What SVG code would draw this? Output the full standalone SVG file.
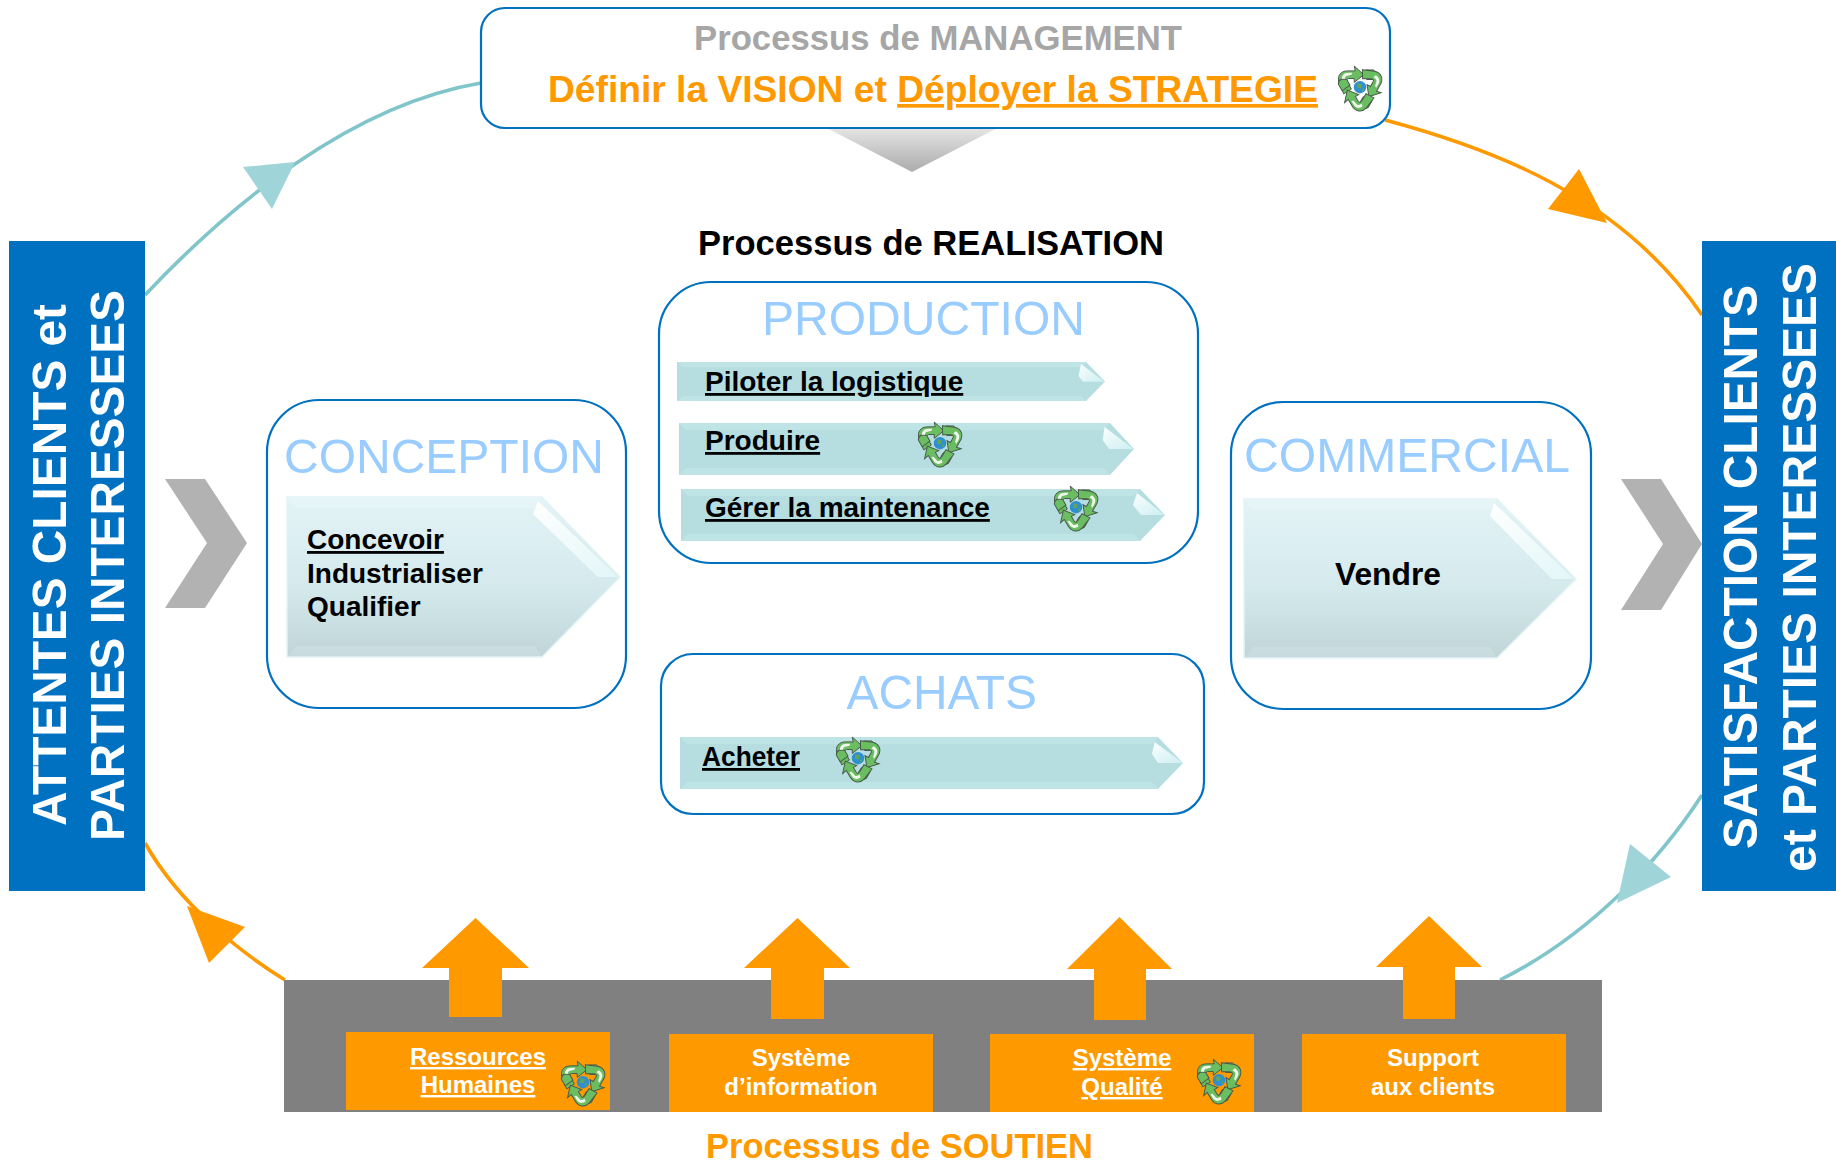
<svg xmlns="http://www.w3.org/2000/svg" width="1836" height="1162" viewBox="0 0 1836 1162">
<style>
text{font-family:"Liberation Sans",Arial,sans-serif;font-weight:700}
.box{fill:#fff;stroke:#0070C0;stroke-width:2.2}
.title{font-weight:400;font-size:48.5px;fill:#99CCFF}
.blk{font-size:28px;fill:#000}
.u{text-decoration:underline;text-decoration-thickness:3px}
.wht{font-size:24px;fill:#fff;text-anchor:middle}
.side{font-size:49px;fill:#fff}
.org{fill:#FF9900}
.sup{fill:#FF9900}
.blue{fill:#0070C0}
.chev{fill:#B2B2B2}
.tl{fill:none;stroke:#7FC5CA;stroke-width:3.6}
.ol{fill:none;stroke:#FF9900;stroke-width:3.6}
.tt{fill:#9FD4D9}
.small{fill:#B6DEE0}
.strip{fill:#BFE4E6}
.hl{fill:url(#hlg)}
.hll{fill:url(#hllg)}
.large{fill:url(#lg);stroke:#E4F4F5;stroke-width:1.5}
.lstrip{fill:#E9F7F9;opacity:.5}
.lstrip2{fill:#E9F7F9;opacity:.2}
.seg{fill:#6ABD60;stroke:#47574A;stroke-width:1}
.segw{fill:#EEF7EA}
</style>
<defs>
<linearGradient id="dg" x1="0" y1="0" x2="0" y2="1"><stop offset="0" stop-color="#EDEDED"/><stop offset="1" stop-color="#ABABAB"/></linearGradient>
<linearGradient id="lg" x1="0" y1="0" x2="0" y2="1"><stop offset="0" stop-color="#E3F3F6"/><stop offset=".55" stop-color="#D5EAED"/><stop offset="1" stop-color="#BFD5D8"/></linearGradient>
<linearGradient id="hlg" x1="0" y1="0" x2="1" y2="1"><stop offset="0" stop-color="#FAFFFF"/><stop offset="1" stop-color="#CDEEF0"/></linearGradient>
<linearGradient id="hllg" x1="0" y1="0" x2="1" y2="1"><stop offset="0" stop-color="#FFFFFF"/><stop offset="1" stop-color="#E2F6F7"/></linearGradient>
<g id="s1">
<path class="seg" d="M-17,7 L-22,-5 C-24,-12 -20,-17 -13,-17 L-5,-17 L-6,-22 L4,-13 L-6,-5 L-6,-9 L-12,-9 C-14,-9 -14,-7 -13,-5 L-9,2 Z"/>
<path class="segw" d="M-19,-8 C-19,-12 -17,-15 -12,-15 L-8,-15 L-9,-13 L-13,-12 C-15,-12 -16,-10 -16,-7 Z"/>
<path class="seg" d="M6,-18 L14,-18 C16,-17 17,-15 17,-13 L14,-8 L7,-8 Z"/>
</g>
<symbol id="recycle" viewBox="-24 -20 48 48" overflow="visible">
<use href="#s1"/>
<use href="#s1" transform="rotate(120)"/>
<use href="#s1" transform="rotate(240)"/>
<circle r="6.5" fill="#2F8FD0"/>
<path d="M-3,-4 L2,-3 L1,1 L-3,1 Z M2,2 L5,1 L3,5 Z" fill="#5FA65A"/>
</symbol>
</defs>

<g id="connectors">
<path class="tl" d="M145 295 C230 205 350 105 481 83"/>
<polygon class="tt" points="243,167 295,162 272,209"/>
<path class="ol" d="M1385 120 C1490 148 1620 195 1702 315"/>
<polygon class="org" points="1579,169 1607,223 1548,209"/>
<path class="ol" d="M285 980 C240 952 180 905 145 843"/>
<polygon class="org" points="187,906 245,927 209,963"/>
<path class="tl" d="M1702 795 C1660 860 1590 935 1500 980"/>
<polygon class="tt" points="1630,844 1671,877 1617,903"/>
</g>

<g id="attentes">
<rect class="blue" x="9" y="241" width="136" height="650"/>
<text class="side" transform="translate(66,826) rotate(-90)" textLength="522" lengthAdjust="spacingAndGlyphs">ATTENTES CLIENTS et</text>
<text class="side" transform="translate(124,841) rotate(-90)" textLength="551" lengthAdjust="spacingAndGlyphs">PARTIES INTERESSEES</text>
</g>
<g id="satisfaction">
<rect class="blue" x="1702" y="241" width="134" height="650"/>
<text class="side" transform="translate(1757,849) rotate(-90)" textLength="564" lengthAdjust="spacingAndGlyphs">SATISFACTION CLIENTS</text>
<text class="side" transform="translate(1816,872) rotate(-90)" textLength="609" lengthAdjust="spacingAndGlyphs">et PARTIES INTERESSEES</text>
</g>
<polygon id="chevron-left" class="chev" points="165,479 205,479 247,543 205,608 165,608 207,543"/>
<polygon id="chevron-right" class="chev" points="1621,479 1661,479 1702,544 1661,610 1621,610 1663,544"/>

<g id="management">
<polygon points="815,122 1009,122 912,172" fill="url(#dg)"/>
<rect class="box" x="481" y="8" width="909" height="120" rx="24"/>
<text x="694" y="50" font-size="34.5" fill="#A6A6A6" textLength="488" lengthAdjust="spacingAndGlyphs">Processus de MANAGEMENT</text>
<text x="548" y="102" font-size="36.5" class="org" textLength="770" lengthAdjust="spacingAndGlyphs">Définir la VISION et <tspan class="u">Déployer la STRATEGIE</tspan></text>
<use href="#recycle" x="1337" y="68" width="46" height="46"/>
</g>

<text id="realisation" x="698" y="255" font-size="34.4" fill="#000" textLength="466" lengthAdjust="spacingAndGlyphs">Processus de REALISATION</text>

<g id="conception">
<rect class="box" x="267" y="400" width="359" height="308" rx="52"/>
<text class="title" x="284" y="473" textLength="320" lengthAdjust="spacingAndGlyphs">CONCEPTION</text>
<polygon class="large" points="287,497 542,497 620,577 542,657 287,657"/>
<polygon class="lstrip" points="287,497 542,497 535,508 296,508"/>
<polygon class="lstrip2" points="287,657 542,657 535,646 296,646"/>
<polygon class="hll" points="538,501 618,577 598,577 533,514"/>
<text class="blk u" x="307" y="549">Concevoir</text>
<text class="blk" x="307" y="583">Industrialiser</text>
<text class="blk" x="307" y="616">Qualifier</text>
</g>

<g id="production">
<rect class="box" x="659" y="282" width="539" height="281" rx="52"/>
<text class="title" x="762" y="335" textLength="323" lengthAdjust="spacingAndGlyphs">PRODUCTION</text>
<g id="piloter">
<polygon class="small" points="677,362 1086,362 1105,381.5 1086,401 677,401"/>
<polygon class="strip" points="677,362 1086,362 1081,367 683,367"/>
<polygon class="strip" points="677,401 1086,401 1081,396 683,396"/>
<polygon class="hl" points="1081,364 1104.5,381.7 1083,381.7 1078.5,376"/>
<text class="blk u" x="705" y="391">Piloter la logistique</text>
</g>
<g id="produire">
<polygon class="small" points="679,423 1110,423 1134,449 1110,475 679,475"/>
<polygon class="strip" points="679,423 1110,423 1104,430 686,430"/>
<polygon class="strip" points="679,475 1110,475 1104,468 686,468"/>
<polygon class="hl" points="1104.5,427 1133.6,449 1109,449 1102.7,440"/>
<text class="blk u" x="705" y="450">Produire</text>
<use href="#recycle" x="917" y="424" width="46" height="46"/>
</g>
<g id="maintenance">
<polygon class="small" points="681,489 1140,489 1165,515 1140,541 681,541"/>
<polygon class="strip" points="681,489 1140,489 1134,496 688,496"/>
<polygon class="strip" points="681,541 1140,541 1134,534 688,534"/>
<polygon class="hl" points="1137,493 1164.5,515 1141,515 1133,505"/>
<text class="blk u" x="705" y="517">Gérer la maintenance</text>
<use href="#recycle" x="1053" y="488" width="46" height="46"/>
</g>
</g>

<g id="achats">
<rect class="box" x="661" y="654" width="543" height="160" rx="32"/>
<text class="title" x="846.5" y="709" textLength="190.5" lengthAdjust="spacingAndGlyphs">ACHATS</text>
<polygon class="small" points="680,737 1158,737 1183,763 1158,789 680,789"/>
<polygon class="strip" points="680,737 1158,737 1152,744 687,744"/>
<polygon class="strip" points="680,789 1158,789 1152,782 687,782"/>
<polygon class="hl" points="1154.6,742 1183,763 1158,763 1152,754"/>
<text class="blk u" x="702" y="766" textLength="98" lengthAdjust="spacingAndGlyphs">Acheter</text>
<use href="#recycle" x="835" y="739" width="46" height="46"/>
</g>

<g id="commercial">
<rect class="box" x="1231" y="402" width="360" height="307" rx="52"/>
<text class="title" x="1244" y="472" textLength="326" lengthAdjust="spacingAndGlyphs">COMMERCIAL</text>
<polygon class="large" points="1244,499 1497,499 1576,579 1497,658 1244,658"/>
<polygon class="lstrip" points="1244,499 1497,499 1490,510 1253,510"/>
<polygon class="lstrip2" points="1244,658 1497,658 1490,647 1253,647"/>
<polygon class="hll" points="1494,503 1574,579 1552,579 1490,516"/>
<text x="1335" y="585" font-size="31.5" fill="#000" textLength="106" lengthAdjust="spacingAndGlyphs">Vendre</text>
</g>

<g id="soutien">
<rect x="284" y="980" width="1318" height="132" fill="#808080"/>
<polygon class="sup" points="475.5,918 529,968 502,968 502,1017 449,1017 449,968 422,968"/>
<polygon class="sup" points="797.5,918 850,968 824,968 824,1019 771,1019 771,968 744,968"/>
<polygon class="sup" points="1119.5,917 1172,969 1146,969 1146,1020 1094,1020 1094,969 1067,969"/>
<polygon class="sup" points="1429,916 1482,967 1455,967 1455,1019 1403,1019 1403,967 1376,967"/>
<g id="rh">
<rect class="sup" x="346" y="1032" width="264" height="78"/>
<text class="wht u" x="478" y="1065">Ressources</text>
<text class="wht u" x="478" y="1093">Humaines</text>
<use href="#recycle" x="560" y="1063" width="46" height="46"/>
</g>
<g id="si">
<rect class="sup" x="669" y="1034" width="264" height="78"/>
<text class="wht" x="801" y="1066">Système</text>
<text class="wht" x="801" y="1095">d’information</text>
</g>
<g id="qualite">
<rect class="sup" x="990" y="1034" width="264" height="78"/>
<text class="wht u" x="1122" y="1066">Système</text>
<text class="wht u" x="1122" y="1095">Qualité</text>
<use href="#recycle" x="1196" y="1061" width="46" height="46"/>
</g>
<g id="support">
<rect class="sup" x="1302" y="1034" width="264" height="78"/>
<text class="wht" x="1433" y="1066">Support</text>
<text class="wht" x="1433" y="1095">aux clients</text>
</g>
</g>
<text id="soutien-label" x="706" y="1158" font-size="34.5" class="org" textLength="387" lengthAdjust="spacingAndGlyphs">Processus de SOUTIEN</text>
</svg>
